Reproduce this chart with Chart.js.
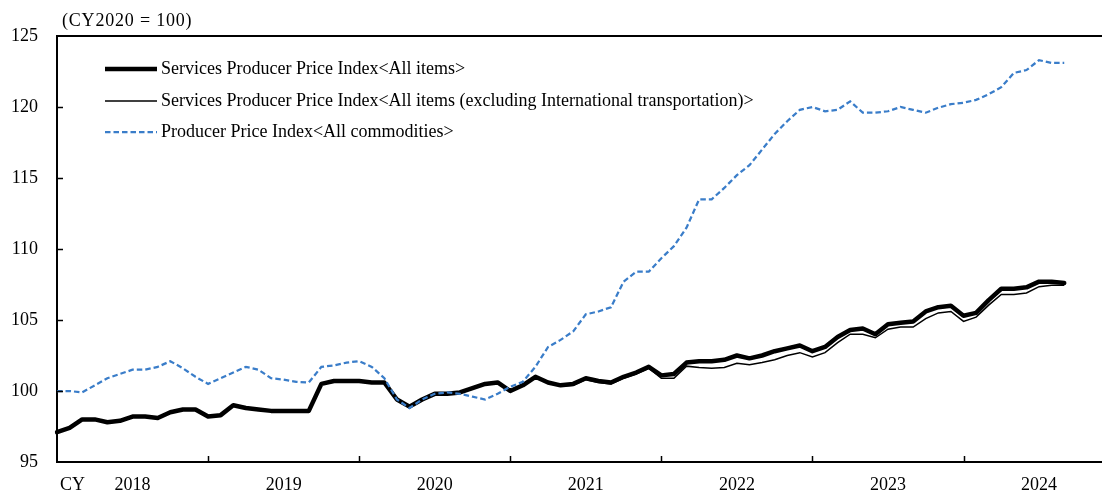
<!DOCTYPE html>
<html>
<head>
<meta charset="utf-8">
<script src="https://cdn.jsdelivr.net/npm/chart.js@4.4.1/dist/chart.umd.min.js"></script>
<style>
    html, body { margin: 0; padding: 0; background: #fff; }
</style>
</head>
<body>
<canvas id="myChart" width="1102" height="492"></canvas>
<script>
// x axis: monthly, Jan 2018 .. Dec 2024 (data runs to Sep 2024)
const years = ["2018", "2019", "2020", "2021", "2022", "2023", "2024"];
const yTicks = [95, 100, 105, 110, 115, 120, 125];

// Services Producer Price Index <All items>
const sppiAll = [
    97.1, 97.4, 98.0, 98.0, 97.8, 97.9, 98.2, 98.2, 98.1, 98.5, 98.7, 98.7,
    98.2, 98.3, 99.0, 98.8, 98.7, 98.6, 98.6, 98.6, 98.6, 100.5, 100.7, 100.7,
    100.7, 100.6, 100.6, 99.4, 98.9, 99.4, 99.8, 99.8, 99.9, 100.2, 100.5, 100.6,
    100.0, 100.4, 101.0, 100.6, 100.4, 100.5, 100.9, 100.7, 100.6, 101.0, 101.3, 101.7,
    101.1, 101.2, 102.0, 102.1, 102.1, 102.2, 102.5, 102.3, 102.5, 102.8, 103.0, 103.2,
    102.8, 103.1, 103.8, 104.3, 104.4, 104.0, 104.7, 104.8, 104.9, 105.6, 105.9, 106.0,
    105.3, 105.5, 106.4, 107.2, 107.2, 107.3, 107.7, 107.7, 107.6
];

// Services Producer Price Index <All items (excluding International transportation)>
const sppiExIntl = [
    97.1, 97.4, 98.0, 98.0, 97.8, 97.9, 98.2, 98.2, 98.1, 98.5, 98.7, 98.7,
    98.2, 98.3, 99.0, 98.8, 98.7, 98.6, 98.6, 98.6, 98.6, 100.5, 100.7, 100.7,
    100.7, 100.6, 100.6, 99.4, 98.9, 99.4, 99.8, 99.8, 99.9, 100.2, 100.5, 100.6,
    100.0, 100.4, 101.0, 100.6, 100.35, 100.4, 100.8, 100.6, 100.5, 100.9, 101.2, 101.6,
    100.9, 100.9, 101.75, 101.65, 101.6, 101.65, 101.95, 101.85, 102.0, 102.2, 102.5, 102.7,
    102.4, 102.7, 103.4, 104.0, 104.0, 103.75, 104.35, 104.5, 104.5, 105.1, 105.5, 105.6,
    104.9, 105.2, 106.05, 106.8, 106.8, 106.9, 107.35, 107.45, 107.45
];

// Producer Price Index <All commodities>
const ppiAll = [
    100.0, 100.0, 99.9, 100.4, 100.9, 101.2, 101.5, 101.5, 101.7, 102.1, 101.6, 101.0,
    100.5, 100.9, 101.3, 101.7, 101.5, 100.9, 100.8, 100.65, 100.6, 101.7, 101.8, 102.0,
    102.1, 101.7, 100.9, 99.4, 98.8, 99.4, 99.8, 99.9, 99.8, 99.6, 99.4, 99.8,
    100.3, 100.65, 101.7, 103.1, 103.6, 104.2, 105.4, 105.6, 105.9, 107.7, 108.4, 108.4,
    109.35, 110.2, 111.5, 113.5, 113.5, 114.3, 115.2, 115.9, 117.0, 118.1, 119.0, 119.8,
    120.0, 119.7, 119.8, 120.4, 119.6, 119.6, 119.7, 120.0, 119.8, 119.6, 119.95, 120.2,
    120.3, 120.5, 120.9, 121.4, 122.4, 122.6, 123.3, 123.1, 123.1
];

const legendNames = [
    "Services Producer Price Index<All items>",
    "Services Producer Price Index<All items (excluding International transportation)>",
    "Producer Price Index<All commodities>"
];

let labels = [];
years.forEach(function (yr) {
    for (let m = 1; m <= 12; m++) {
        labels.push(yr + "-" + m.toString().padStart(2, "0"));
    }
});

const serif = "'Liberation Serif', 'Times New Roman', serif";

const framePlugin = {
    id: "frame",
    afterDraw(chart) {
        const ctx = chart.ctx;
        const a = chart.chartArea;
        const x = chart.scales.x;
        const y = chart.scales.y;
        ctx.save();

        // top border
        ctx.strokeStyle = "#000";
        ctx.lineWidth = 2;
        ctx.beginPath();
        ctx.moveTo(a.left - 1, a.top);
        ctx.lineTo(a.right, a.top);
        ctx.stroke();

        // inward tick marks
        ctx.lineWidth = 1.5;
        ctx.beginPath();
        yTicks.forEach(function (v) {
            if (v === 95 || v === 125) return;
            const py = Math.round(y.getPixelForValue(v)) + 0.5;
            ctx.moveTo(a.left, py);
            ctx.lineTo(a.left + 6, py);
        });
        for (let i = 12; i < labels.length; i += 12) {
            const px = Math.round(x.getPixelForValue(i)) + 0.5;
            ctx.moveTo(px, a.bottom);
            ctx.lineTo(px, a.bottom - 6);
        }
        ctx.stroke();

        // unit + CY
        ctx.fillStyle = "#000";
        ctx.font = "18px " + serif;
        ctx.textBaseline = "middle";
        ctx.textAlign = "left";
        ctx.letterSpacing = "0.8px";
        ctx.fillText("(CY2020 = 100)", a.left + 5, 21);
        ctx.letterSpacing = "0px";
        ctx.fillText("CY", a.left + 3, 485);

        // legend
        const rows = [69, 101, 132];
        const order = [1, 2, 0]; // dataset index for each legend row
        ctx.font = "18px " + serif;
        rows.forEach(function (ry, k) {
            const ds = chart.data.datasets[order[k]];
            ctx.save();
            ctx.strokeStyle = ds.borderColor;
            ctx.lineWidth = ds.borderWidth;
            ctx.setLineDash(ds.borderDash || []);
            ctx.beginPath();
            ctx.moveTo(105, ry);
            ctx.lineTo(157, ry);
            ctx.stroke();
            ctx.restore();
            ctx.fillText(legendNames[k], 161, ry);
        });
        ctx.restore();
    }
};

const ctx = document.getElementById("myChart").getContext("2d");
const myChart = new Chart(ctx, {
    type: "line",
    data: {
        labels: labels,
        datasets: [
            {
                label: legendNames[2],
                data: ppiAll,
                borderColor: "#3A7DC9",
                borderWidth: 2.25,
                borderDash: [5.5, 3],
            },
            {
                label: legendNames[0],
                data: sppiAll,
                borderColor: "#000",
                borderWidth: 4.5,
                borderJoinStyle: "round",
                borderCapStyle: "round",
            },
            {
                label: legendNames[1],
                data: sppiExIntl,
                borderColor: "#000",
                borderWidth: 1.5,
            },
        ],
    },
    options: {
        responsive: false,
        animation: false,
        devicePixelRatio: 1,
        elements: {
            point: { radius: 0 },
            line: { tension: 0 },
        },
        layout: { autoPadding: false, padding: { top: 36, right: 0, left: 0, bottom: 0 } },
        plugins: {
            legend: { display: false },
            tooltip: { enabled: false },
        },
        scales: {
            x: {
                type: "category",
                offset: false,
                afterFit: function (scale) {
                    scale.height = 30;
                    scale.paddingLeft = 0;
                    scale.paddingRight = 0;
                },
                grid: { drawOnChartArea: false, drawTicks: false },
                border: { color: "#000", width: 2 },
                ticks: {
                    autoSkip: false,
                    maxRotation: 0,
                    padding: 12,
                    color: "#000",
                    font: { family: serif, size: 18 },
                    callback: function (val, index) {
                        return index % 12 === 6 ? years[Math.floor(index / 12)] : "";
                    },
                },
            },
            y: {
                min: 95,
                max: 125,
                afterFit: function (scale) {
                    scale.width = 57;
                    scale.paddingTop = 0;
                    scale.paddingBottom = 0;
                },
                grid: { drawOnChartArea: false, drawTicks: false },
                border: { color: "#000", width: 2 },
                ticks: {
                    stepSize: 5,
                    padding: 19,
                    color: "#000",
                    font: { family: serif, size: 18 },
                },
            },
        },
    },
    plugins: [framePlugin],
});
</script>
</body>
</html>
